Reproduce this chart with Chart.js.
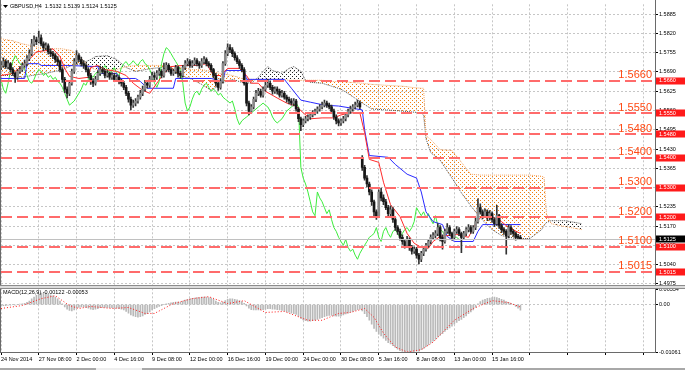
<!DOCTYPE html>
<html>
<head>
<meta charset="utf-8">
<script src="https://cdn.jsdelivr.net/npm/chart.js@4.4.1/dist/chart.umd.min.js"></script>
<style>
  html, body { margin: 0; padding: 0; background: #fff; overflow: hidden; }
  canvas { display: block; }
</style>
</head>
<body>
<canvas id="chart" width="685" height="370"></canvas>
<script>
// GBPUSD H4 candles, one value per bar (bar 0 = 24 Nov 2014 16:00)
const open = [1.5705,
  1.5712,1.5725,1.5708,1.5718,1.5698,1.5685,1.5672,1.5692,1.5698,1.5712,
  1.5718,1.5735,1.5752,1.5785,1.5798,1.5792,1.5805,1.5785,1.5772,1.5778,
  1.5758,1.5752,1.5745,1.5732,1.5725,1.5698,1.5665,1.5632,1.5618,1.5652,
  1.5692,1.5725,1.5745,1.5732,1.5718,1.5712,1.5698,1.5678,1.5658,1.5652,
  1.5665,1.5685,1.5698,1.5692,1.5678,1.5685,1.5672,1.5678,1.5665,1.5672,
  1.5658,1.5652,1.5638,1.5618,1.5598,1.5578,1.5585,1.5592,1.5605,1.5618,
  1.5632,1.5652,1.5645,1.5665,1.5678,1.5672,1.5685,1.5692,1.5678,1.5698,
  1.5712,1.5698,1.5685,1.5692,1.5705,1.5685,1.5678,1.5705,1.5718,1.5725,
  1.5712,1.5718,1.5728,1.5718,1.5712,1.5725,1.5732,1.5718,1.5712,1.5698,
  1.5678,1.5652,1.5638,1.5658,1.5718,1.5752,1.5772,1.5765,1.5752,1.5738,
  1.5725,1.5712,1.5698,1.5652,1.5585,1.5558,1.5572,1.5598,1.5618,1.5625,
  1.5612,1.5632,1.5645,1.5652,1.5638,1.5625,1.5632,1.5625,1.5612,1.5618,
  1.5605,1.5598,1.5592,1.5585,1.5592,1.5565,1.5532,1.5512,1.5525,1.5532,
  1.5538,1.5545,1.5552,1.5558,1.5565,1.5572,1.5578,1.5585,1.5578,1.5572,
  1.5558,1.5538,1.5525,1.5518,1.5525,1.5532,1.5545,1.5558,1.5565,1.5572,
  1.5578,1.5585,1.5402,1.5368,1.5332,1.5312,1.5285,1.5252,1.5218,1.5205,
  1.5285,1.5265,1.5252,1.5232,1.5212,1.5225,1.5192,1.5165,1.5152,1.5132,
  1.5118,1.5105,1.5125,1.5098,1.5085,1.5092,1.5072,1.5058,1.5078,1.5092,
  1.5105,1.5118,1.5132,1.5138,1.5145,1.5165,1.5132,1.5118,1.5152,1.5165,
  1.5145,1.5132,1.5152,1.5158,1.5145,1.5132,1.5145,1.5158,1.5165,1.5152,
  1.5165,1.5185,1.5232,1.5218,1.5205,1.5218,1.5198,1.5212,1.5192,1.5178,
  1.5205,1.5172,1.5158,1.5152,1.5138,1.5165,1.5152,1.5145,1.5132,1.5132];
const high = [
  1.5725,1.5738,1.5732,1.5728,1.5722,1.5705,1.5690,1.5698,1.5708,1.5720,
  1.5730,1.5745,1.5765,1.5800,1.5812,1.5808,1.5828,1.5815,1.5792,1.5788,
  1.5785,1.5768,1.5760,1.5752,1.5742,1.5730,1.5705,1.5672,1.5640,1.5660,
  1.5700,1.5735,1.5762,1.5752,1.5740,1.5728,1.5718,1.5705,1.5685,1.5668,
  1.5675,1.5695,1.5710,1.5705,1.5698,1.5695,1.5690,1.5688,1.5685,1.5680,
  1.5678,1.5665,1.5658,1.5645,1.5625,1.5605,1.5595,1.5600,1.5612,1.5628,
  1.5642,1.5662,1.5660,1.5675,1.5690,1.5688,1.5695,1.5702,1.5698,1.5720,
  1.5722,1.5718,1.5705,1.5700,1.5712,1.5710,1.5692,1.5712,1.5728,1.5735,
  1.5732,1.5728,1.5738,1.5735,1.5725,1.5735,1.5742,1.5738,1.5725,1.5718,
  1.5702,1.5685,1.5660,1.5668,1.5725,1.5762,1.5785,1.5782,1.5772,1.5758,
  1.5745,1.5732,1.5718,1.5705,1.5658,1.5592,1.5580,1.5605,1.5628,1.5635,
  1.5632,1.5640,1.5655,1.5665,1.5660,1.5645,1.5640,1.5640,1.5632,1.5628,
  1.5625,1.5612,1.5605,1.5600,1.5600,1.5598,1.5570,1.5538,1.5532,1.5540,
  1.5545,1.5552,1.5560,1.5565,1.5572,1.5580,1.5588,1.5595,1.5592,1.5585,
  1.5578,1.5565,1.5545,1.5532,1.5532,1.5540,1.5552,1.5565,1.5575,1.5580,
  1.5588,1.5595,1.5592,1.5408,1.5375,1.5340,1.5318,1.5292,1.5258,1.5225,
  1.5292,1.5298,1.5275,1.5260,1.5240,1.5238,1.5232,1.5200,1.5172,1.5160,
  1.5140,1.5125,1.5135,1.5130,1.5105,1.5100,1.5098,1.5078,1.5085,1.5100,
  1.5112,1.5125,1.5140,1.5148,1.5155,1.5178,1.5172,1.5140,1.5160,1.5178,
  1.5172,1.5150,1.5160,1.5168,1.5165,1.5150,1.5152,1.5165,1.5175,1.5172,
  1.5172,1.5198,1.5262,1.5245,1.5225,1.5228,1.5225,1.5222,1.5218,1.5198,
  1.5240,1.5210,1.5178,1.5165,1.5158,1.5175,1.5172,1.5158,1.5150,1.5142,
  1.5139];
const low = [
  1.5698,1.5705,1.5702,1.5700,1.5690,1.5678,1.5655,1.5665,1.5685,1.5692,
  1.5705,1.5710,1.5728,1.5745,1.5778,1.5782,1.5788,1.5778,1.5762,1.5765,
  1.5750,1.5742,1.5735,1.5722,1.5712,1.5690,1.5655,1.5620,1.5602,1.5610,
  1.5645,1.5685,1.5718,1.5725,1.5710,1.5702,1.5690,1.5670,1.5648,1.5640,
  1.5645,1.5660,1.5678,1.5685,1.5670,1.5672,1.5665,1.5665,1.5658,1.5658,
  1.5650,1.5642,1.5630,1.5610,1.5588,1.5562,1.5570,1.5575,1.5585,1.5598,
  1.5610,1.5625,1.5635,1.5638,1.5658,1.5662,1.5665,1.5678,1.5670,1.5672,
  1.5690,1.5690,1.5678,1.5678,1.5685,1.5672,1.5668,1.5672,1.5698,1.5710,
  1.5705,1.5705,1.5712,1.5710,1.5702,1.5705,1.5718,1.5710,1.5705,1.5690,
  1.5670,1.5642,1.5628,1.5632,1.5652,1.5712,1.5745,1.5755,1.5742,1.5730,
  1.5718,1.5702,1.5690,1.5645,1.5575,1.5545,1.5550,1.5565,1.5590,1.5610,
  1.5605,1.5605,1.5625,1.5638,1.5630,1.5615,1.5618,1.5615,1.5605,1.5605,
  1.5598,1.5588,1.5582,1.5578,1.5575,1.5558,1.5522,1.5492,1.5505,1.5518,
  1.5525,1.5530,1.5538,1.5545,1.5550,1.5558,1.5565,1.5572,1.5570,1.5565,
  1.5550,1.5530,1.5515,1.5508,1.5510,1.5518,1.5525,1.5538,1.5550,1.5558,
  1.5565,1.5572,1.5565,1.5358,1.5325,1.5302,1.5275,1.5240,1.5205,1.5192,
  1.5198,1.5255,1.5242,1.5225,1.5205,1.5205,1.5182,1.5155,1.5142,1.5122,
  1.5108,1.5095,1.5098,1.5088,1.5075,1.5078,1.5062,1.5042,1.5050,1.5070,
  1.5085,1.5098,1.5110,1.5125,1.5130,1.5138,1.5120,1.5092,1.5112,1.5145,
  1.5138,1.5122,1.5125,1.5145,1.5138,1.5080,1.5125,1.5138,1.5150,1.5145,
  1.5145,1.5158,1.5180,1.5210,1.5195,1.5198,1.5188,1.5190,1.5182,1.5168,
  1.5172,1.5162,1.5148,1.5142,1.5075,1.5130,1.5142,1.5135,1.5122,1.5125,
  1.5124];
const close = [
  1.5712,1.5725,1.5708,1.5718,1.5698,1.5685,1.5672,1.5692,1.5698,1.5712,
  1.5718,1.5735,1.5752,1.5785,1.5798,1.5792,1.5805,1.5785,1.5772,1.5778,
  1.5758,1.5752,1.5745,1.5732,1.5725,1.5698,1.5665,1.5632,1.5618,1.5652,
  1.5692,1.5725,1.5745,1.5732,1.5718,1.5712,1.5698,1.5678,1.5658,1.5652,
  1.5665,1.5685,1.5698,1.5692,1.5678,1.5685,1.5672,1.5678,1.5665,1.5672,
  1.5658,1.5652,1.5638,1.5618,1.5598,1.5578,1.5585,1.5592,1.5605,1.5618,
  1.5632,1.5652,1.5645,1.5665,1.5678,1.5672,1.5685,1.5692,1.5678,1.5698,
  1.5712,1.5698,1.5685,1.5692,1.5705,1.5685,1.5678,1.5705,1.5718,1.5725,
  1.5712,1.5718,1.5728,1.5718,1.5712,1.5725,1.5732,1.5718,1.5712,1.5698,
  1.5678,1.5652,1.5638,1.5658,1.5718,1.5752,1.5772,1.5765,1.5752,1.5738,
  1.5725,1.5712,1.5698,1.5652,1.5585,1.5558,1.5572,1.5598,1.5618,1.5625,
  1.5612,1.5632,1.5645,1.5652,1.5638,1.5625,1.5632,1.5625,1.5612,1.5618,
  1.5605,1.5598,1.5592,1.5585,1.5592,1.5565,1.5532,1.5512,1.5525,1.5532,
  1.5538,1.5545,1.5552,1.5558,1.5565,1.5572,1.5578,1.5585,1.5578,1.5572,
  1.5558,1.5538,1.5525,1.5518,1.5525,1.5532,1.5545,1.5558,1.5565,1.5572,
  1.5578,1.5585,1.5572,1.5368,1.5332,1.5312,1.5285,1.5252,1.5218,1.5205,
  1.5285,1.5265,1.5252,1.5232,1.5212,1.5225,1.5192,1.5165,1.5152,1.5132,
  1.5118,1.5105,1.5125,1.5098,1.5085,1.5092,1.5072,1.5058,1.5078,1.5092,
  1.5105,1.5118,1.5132,1.5138,1.5145,1.5165,1.5132,1.5118,1.5152,1.5165,
  1.5145,1.5132,1.5152,1.5158,1.5145,1.5132,1.5145,1.5158,1.5165,1.5152,
  1.5165,1.5185,1.5232,1.5218,1.5205,1.5218,1.5198,1.5212,1.5192,1.5178,
  1.5205,1.5172,1.5158,1.5152,1.5138,1.5165,1.5152,1.5145,1.5132,1.5132,
  1.5125];

// Ichimoku lines (bar index, price)
const tenkanX = [0,5,9,12,15,19,22,25,27,29,33,37,38,41,44,49,53,56,60,63,66,69,72,77,83,87,90,93,96,101,104,106,109,112,117,121,125,128,131,136,141,144,148,152,154,156,160,162,165,169,172,175,178,181,183,186,193,198,201,204,208,212,215,220];
const tenkan = [1.5678,1.5685,1.5712,1.5732,1.5758,1.5762,1.5768,1.5742,1.5702,1.5675,1.5668,1.5672,1.5705,1.5712,1.5698,1.5692,1.5678,1.5652,1.5628,1.5618,1.5652,1.5685,1.5708,1.5712,1.5712,1.5718,1.5678,1.5678,1.5702,1.5702,1.5678,1.5652,1.5652,1.5625,1.5602,1.5585,1.5575,1.5552,1.5532,1.5535,1.5535,1.5545,1.5552,1.5552,1.5485,1.5395,1.5385,1.5318,1.5242,1.5202,1.5145,1.5112,1.5098,1.5095,1.5118,1.5135,1.5142,1.5132,1.5178,1.5208,1.5202,1.5185,1.5165,1.5145];
const kijunX = [0,10,11,16,17,28,41,42,49,50,57,59,62,73,74,89,94,95,103,104,120,123,127,131,137,143,153,154,156,164,167,172,176,178,180,183,187,189,192,200,202,204,220];
const kijun = [1.5668,1.5668,1.5718,1.5718,1.5712,1.5712,1.5708,1.5685,1.5685,1.5668,1.5668,1.5658,1.5635,1.5635,1.5668,1.5668,1.5658,1.5695,1.5695,1.5665,1.5665,1.5635,1.5595,1.5588,1.5578,1.5575,1.5562,1.5495,1.5408,1.5402,1.5378,1.5345,1.5332,1.5285,1.5218,1.5185,1.5175,1.5135,1.5118,1.5118,1.5152,1.5175,1.5175];
const chikouShift = 26;
const cloudX = [0,5,9,13,19,26,30,34,38,40,45,49,53,57,64,68,72,76,81,85,89,91,93,98,102,106,109,111,113,115,119,122,124,127,129,131,136,140,144,148,153,157,163,170,174,178,179,180,182,186,191,195,199,203,208,212,218,224,229,230,231,233,239,246];
const spanA = [1.5678,1.5678,1.5672,1.5678,1.5685,1.5698,1.5712,1.5718,1.5732,1.5742,1.5745,1.5732,1.5705,1.5692,1.5702,1.5705,1.5692,1.5678,1.5665,1.5648,1.5628,1.5638,1.5652,1.5665,1.5655,1.5652,1.5672,1.5692,1.5708,1.5695,1.5685,1.5702,1.5708,1.5692,1.5662,1.5655,1.5652,1.5642,1.5632,1.5612,1.5585,1.5565,1.5562,1.5558,1.5555,1.5552,1.5545,1.5465,1.5418,1.5392,1.5332,1.5282,1.5238,1.5198,1.5158,1.5138,1.5128,1.5128,1.5158,1.5172,1.5182,1.5188,1.5188,1.5178];
const spanB = [1.5802,1.5795,1.5785,1.5778,1.5768,1.5768,1.5762,1.5735,1.5705,1.5698,1.5698,1.5698,1.5708,1.5712,1.5712,1.5712,1.5708,1.5705,1.5698,1.5698,1.5692,1.5688,1.5685,1.5678,1.5668,1.5665,1.5665,1.5665,1.5665,1.5665,1.5665,1.5662,1.5662,1.5662,1.5662,1.5662,1.5662,1.5658,1.5658,1.5655,1.5652,1.5648,1.5645,1.5642,1.5638,1.5635,1.5635,1.5475,1.5462,1.5428,1.5425,1.5385,1.5345,1.5342,1.5342,1.5342,1.5342,1.5342,1.5338,1.5335,1.5212,1.5178,1.5168,1.5158];

// MACD(12,26,9): main value per bar, signal read at sample bars
const macd = [
  -0.0003,-0.0002,-0.0002,-0.0001,-0.0001,0,-0.0001,0,0.0001,0.0002,
  0.0003,0.0005,0.0008,0.0013,0.0017,0.0021,0.0024,0.0026,0.0026,0.0025,
  0.0024,0.0022,0.0020,0.0017,0.0013,0.0008,0.0002,-0.0005,-0.0010,-0.0013,
  -0.0014,-0.0012,-0.0008,-0.0006,-0.0005,-0.0005,-0.0006,-0.0008,-0.0010,-0.0011,
  -0.0010,-0.0009,-0.0007,-0.0006,-0.0006,-0.0006,-0.0007,-0.0007,-0.0008,-0.0008,
  -0.0009,-0.0010,-0.0012,-0.0015,-0.0019,-0.0023,-0.0025,-0.0027,-0.0028,-0.0027,
  -0.0025,-0.0022,-0.0020,-0.0016,-0.0012,-0.0009,-0.0006,-0.0004,-0.0002,0,
  0.0002,0.0003,0.0004,0.0005,0.0006,0.0006,0.0006,0.0008,0.0010,0.0012,
  0.0013,0.0014,0.0015,0.0016,0.0016,0.0017,0.0017,0.0017,0.0016,0.0015,
  0.0012,0.0008,0.0005,0.0004,0.0006,0.0009,0.0012,0.0013,0.0013,0.0012,
  0.0011,0.0009,0.0007,0.0003,-0.0003,-0.0008,-0.0011,-0.0012,-0.0012,-0.0012,
  -0.0012,-0.0011,-0.0010,-0.0009,-0.0009,-0.0010,-0.0010,-0.0011,-0.0012,-0.0013,
  -0.0014,-0.0016,-0.0017,-0.0019,-0.0020,-0.0022,-0.0026,-0.0031,-0.0034,-0.0036,
  -0.0037,-0.0037,-0.0036,-0.0035,-0.0033,-0.0031,-0.0029,-0.0027,-0.0025,-0.0024,
  -0.0024,-0.0025,-0.0026,-0.0026,-0.0025,-0.0023,-0.0021,-0.0019,-0.0017,-0.0015,
  -0.0013,-0.0011,-0.0010,-0.0014,-0.0020,-0.0027,-0.0035,-0.0044,-0.0053,-0.0060,
  -0.0066,-0.0070,-0.0075,-0.0080,-0.0085,-0.0088,-0.0092,-0.0096,-0.0100,-0.0103,
  -0.0105,-0.0106,-0.0105,-0.0106,-0.0106,-0.0105,-0.0104,-0.0104,-0.0101,-0.0098,
  -0.0094,-0.0090,-0.0086,-0.0082,-0.0078,-0.0073,-0.0069,-0.0065,-0.0060,-0.0056,
  -0.0052,-0.0048,-0.0044,-0.0040,-0.0036,-0.0033,-0.0029,-0.0025,-0.0020,-0.0016,
  -0.0012,-0.0006,0.0002,0.0007,0.0010,0.0012,0.0014,0.0015,0.0016,0.0017,
  0.0016,0.0014,0.0012,0.0010,0.0007,0.0005,0.0003,0,-0.0004,-0.0008,
  -0.00122];
const signalX = [0,9,17,23,29,33,38,47,54,61,65,73,81,88,96,103,112,120,130,136,143,148,154,158,162,167,172,178,183,192,200,208,215,220];
const signal = [-0.00086,-0.0002,0.00135,0.0020,-0.0002,-0.00086,-0.0004,-0.00086,-0.00064,-0.00197,-0.00197,0.00024,0.00135,0.00179,0.00024,0.0009,-0.00175,-0.00152,-0.0035,-0.0035,-0.00197,-0.00175,-0.00086,-0.00285,-0.0064,-0.0095,-0.0106,-0.0101,-0.0084,-0.0035,-0.00086,0.0009,0.00046,-0.00053];

// horizontal levels, bid, axis ticks and time labels
const levels = [1.5660, 1.5550, 1.5480, 1.5400, 1.5300, 1.5200, 1.5100, 1.5015];
const bid = 1.5125;
const priceTicks = [1.5885,1.5820,1.5755,1.5690,1.5625,1.5560,1.5495,1.5430,1.5365,1.5300,1.5235,1.5170,1.5105,1.5040,1.4975];
const macdTicks = [0.00334, 0, -0.01061];
const gridBars = [0,16,32,48,64,80,96,112,128,144,160,176,192,208,224,240,256,272];
const timeLabels = ['24 Nov 2014','27 Nov 08:00','2 Dec 00:00','4 Dec 16:00','9 Dec 08:00','12 Dec 00:00','16 Dec 16:00','19 Dec 00:00','24 Dec 00:00','30 Dec 08:00','5 Jan 16:00','8 Jan 08:00','13 Jan 00:00','15 Jan 16:00'];

const FONT = '"Liberation Sans", Arial, sans-serif';

// staggered dot hatch like the terminal's cloud fill
function dots(color) {
  const c = document.createElement('canvas');
  c.width = 4; c.height = 4;
  const g = c.getContext('2d');
  g.fillStyle = color;
  g.fillRect(0, 0, 1, 1);
  g.fillRect(2, 2, 1, 1);
  return g.createPattern(c, 'repeat');
}
const pts = (xs, ys) => xs.map((x, k) => ({x: x, y: ys[k]}));

const overlay = {
  id: 'overlay',
  afterDatasetsDraw(chart) {
    const {ctx, chartArea: a} = chart;
    const y = chart.scales.y;
    ctx.save();
    const by = Math.round(y.getPixelForValue(bid)) + 0.5;
    ctx.strokeStyle = '#c0c0c0';
    ctx.lineWidth = 1;
    ctx.beginPath(); ctx.moveTo(a.left, by); ctx.lineTo(a.right, by); ctx.stroke();

    ctx.strokeStyle = '#ff6b6b';
    ctx.lineWidth = 2;
    ctx.setLineDash([11, 5]);
    levels.forEach(v => {
      const py = Math.round(y.getPixelForValue(v));
      ctx.beginPath(); ctx.moveTo(a.left, py); ctx.lineTo(a.right, py); ctx.stroke();
    });
    ctx.setLineDash([]);
    ctx.fillStyle = '#ff4a14';
    ctx.font = '11px ' + FONT;
    ctx.textAlign = 'right';
    ctx.textBaseline = 'alphabetic';
    levels.forEach(v => ctx.fillText(v.toFixed(4), a.right - 3, y.getPixelForValue(v) - 2.5));
    ctx.restore();
  },
  afterDraw(chart) {
    const {ctx, chartArea: a} = chart;
    const y = chart.scales.y;
    ctx.save();
    // axis boxes
    ctx.font = '5.5px ' + FONT;
    ctx.textAlign = 'left';
    ctx.textBaseline = 'middle';
    const box = (v, bg) => {
      const py = y.getPixelForValue(v);
      ctx.fillStyle = bg;
      ctx.fillRect(a.right + 1, Math.round(py) - 3.5, 29, 7);
      ctx.fillStyle = '#fff';
      ctx.fillText(v.toFixed(4), a.right + 4, py);
    };
    levels.forEach(v => box(v, '#ff1a1a'));
    box(bid, '#000');

    // frame and pane separator
    ctx.fillStyle = '#6a6a6a';
    ctx.fillRect(a.right, 0, 1, a.bottom + 1);
    ctx.fillRect(0, 0, 1, a.bottom + 1);
    ctx.fillRect(0, a.bottom, a.right + 1, 1);
    ctx.fillStyle = '#8c8c8c';
    ctx.fillRect(0, 285, 685, 1);
    ctx.fillRect(0, 288, 685, 1);
    ctx.fillStyle = '#dcdcdc';
    ctx.fillRect(0, 286, 685, 2);
    // bottom scroll strip
    ctx.fillStyle = '#a8a8a8';
    ctx.fillRect(0, 368, 685, 2);
    ctx.fillStyle = '#eeeeee';
    ctx.fillRect(96, 368, 46, 2);

    // titles
    ctx.fillStyle = '#000';
    ctx.beginPath(); ctx.moveTo(3, 5); ctx.lineTo(8, 5); ctx.lineTo(5.5, 8); ctx.closePath(); ctx.fill();
    ctx.font = '5.5px ' + FONT;
    ctx.textBaseline = 'middle';
    const n = close.length - 1;
    ctx.fillText('GBPUSD,H4  ' + [open[n], high[n], low[n], close[n]].map(v => v.toFixed(4)).join(' '), 10, 6.5);
    ctx.fillText('MACD(12,26,9) ' + macd[n].toFixed(5) + ' ' + signal[signal.length - 1].toFixed(5), 3, 292.5);
    ctx.restore();
  }
};

const bodyColors = close.map((c, i) => c > open[i] ? '#8a8a8a' : '#161616');

new Chart(document.getElementById('chart'), {
  type: 'bar',
  data: {
    datasets: [
      {type: 'bar', data: close.map((c, i) => ({x: i, y: [open[i], c]})), backgroundColor: bodyColors,
       barThickness: 2, minBarLength: 1, grouped: false, order: 1, yAxisID: 'y'},
      {type: 'bar', data: close.map((c, i) => ({x: i, y: [low[i], high[i]]})), backgroundColor: '#333',
       barThickness: 1, grouped: false, order: 2, yAxisID: 'y'},
      {type: 'line', data: pts(tenkanX, tenkan), borderColor: '#ff2a2a', borderWidth: 1, pointRadius: 0, order: 3, yAxisID: 'y'},
      {type: 'line', data: pts(kijunX, kijun), borderColor: '#2a2aff', borderWidth: 1, pointRadius: 0, order: 3, yAxisID: 'y'},
      {type: 'line', data: close.map((c, i) => ({x: i - chikouShift, y: c})), borderColor: '#3cec3c', borderWidth: 1, pointRadius: 0, order: 3, yAxisID: 'y'},
      {type: 'line', data: pts(cloudX, spanB), borderColor: '#f4a460', borderWidth: 1, borderDash: [1, 1], pointRadius: 0, order: 5, fill: false, yAxisID: 'y'},
      {type: 'line', data: pts(cloudX, spanA), borderColor: '#505050', borderWidth: 1, borderDash: [1, 1], pointRadius: 0, order: 5,
       fill: {target: 5, above: dots('#222222'), below: dots('#f07f10')}, yAxisID: 'y'},
      {type: 'bar', data: macd.map((v, i) => ({x: i, y: v})), backgroundColor: '#b9b9b9', barThickness: 1, grouped: false, order: 6, yAxisID: 'y2'},
      {type: 'line', data: pts(signalX, signal), borderColor: '#ff1a1a', borderWidth: 1, borderDash: [1, 2], pointRadius: 0, order: 4, yAxisID: 'y2'}
    ]
  },
  options: {
    responsive: false,
    animation: false,
    devicePixelRatio: 1,
    events: [],
    layout: {padding: 0},
    plugins: {legend: {display: false}, tooltip: {enabled: false}},
    scales: {
      x: {
        type: 'linear', min: 0, max: 277, offset: false,
        afterBuildTicks: s => { s.ticks = gridBars.map(v => ({value: v})); },
        afterFit: s => { s.height = 18; },
        ticks: {autoSkip: false, maxRotation: 0, align: 'start', padding: 1, color: '#000',
                font: {size: 5.5, family: FONT}, callback: v => timeLabels[v / 16] || ''},
        grid: {offset: false, color: '#c6c6c6', tickLength: 3, tickColor: '#000'},
        border: {display: false, dash: [2, 2]}
      },
      y: {
        type: 'linear', position: 'right', stack: 'panes', stackWeight: 287,
        min: 1.49617, max: 1.59183, beginAtZero: false,
        afterBuildTicks: s => { s.ticks = priceTicks.map(v => ({value: v})); },
        afterFit: s => { s.width = 30; },
        ticks: {autoSkip: false, padding: 1, color: '#000', font: {size: 5.5, family: FONT}, callback: v => v.toFixed(4)},
        grid: {color: '#c6c6c6', tickLength: 3, tickColor: '#000'},
        border: {display: false, dash: [2, 2]}
      },
      y2: {
        type: 'linear', position: 'right', stack: 'panes', stackWeight: 65,
        min: -0.01061, max: 0.00378, beginAtZero: false,
        afterBuildTicks: s => { s.ticks = macdTicks.map(v => ({value: v})); },
        afterFit: s => { s.width = 30; },
        ticks: {autoSkip: false, padding: 1, color: '#000', font: {size: 5.5, family: FONT},
                callback: v => v === 0 ? '0.00' : v.toFixed(5)},
        grid: {color: c => (c.tick && c.tick.value === 0) ? '#c6c6c6' : 'rgba(0,0,0,0)', tickLength: 3, tickColor: '#000'},
        border: {display: false, dash: [2, 2]}
      }
    }
  },
  plugins: [overlay]
});
</script>
</body>
</html>
